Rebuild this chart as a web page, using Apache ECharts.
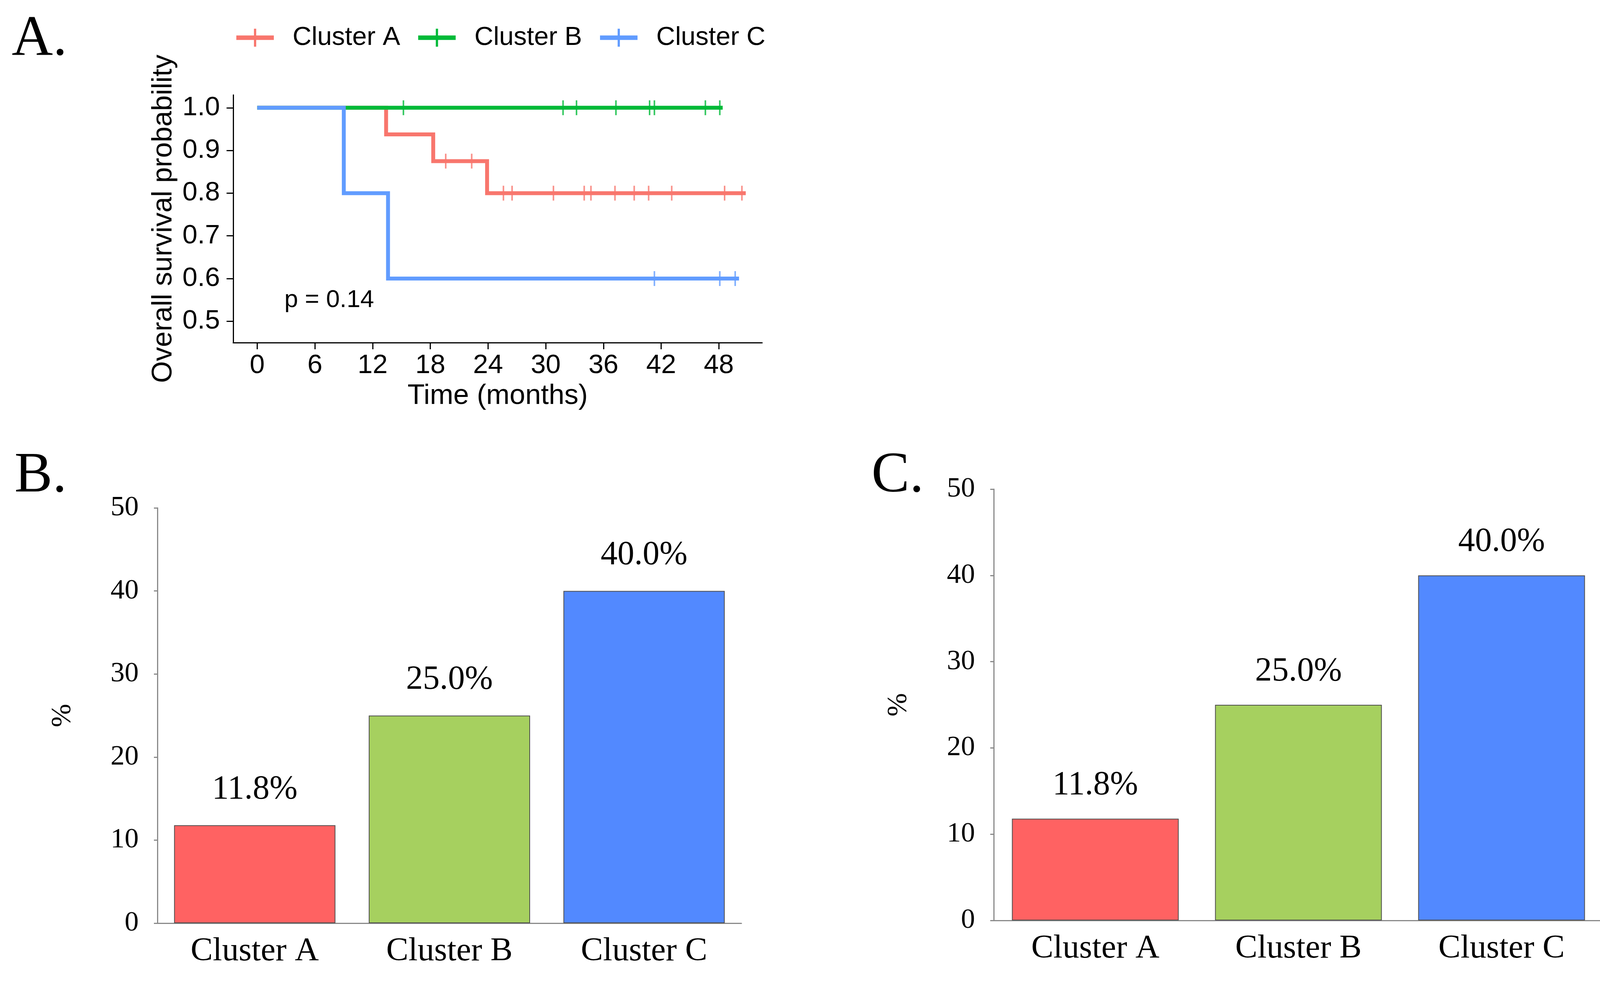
<!DOCTYPE html>
<html>
<head>
<meta charset="utf-8">
<script src="https://cdn.jsdelivr.net/npm/echarts@6/dist/echarts.min.js"></script>
<style>
html,body{margin:0;padding:0;background:#fff;}
#chart{width:4135px;height:2511px;}
</style>
</head>
<body>
<div id="chart"></div>
<script>
// ---------------- data ----------------
const clusterNames = ['Cluster A', 'Cluster B', 'Cluster C'];

// Kaplan-Meier step points (time in months, survival probability)
const kmTimeA = [0, 13.4, 18.3, 23.9, 50.8];
const kmSurvA = [1.0, 0.9375, 0.875, 0.8, 0.8];
const kmTimeB = [0, 48.4];
const kmSurvB = [1.0, 1.0];
const kmTimeC = [0, 9.0, 13.6, 50.1];
const kmSurvC = [1.0, 0.8, 0.6, 0.6];

// censoring times (months)
const censorA = [19.6, 22.3, 25.6, 26.5, 30.8, 34.0, 34.7, 37.2, 39.2, 40.7, 43.1, 48.6, 50.4];
const censorB = [15.2, 31.8, 33.2, 37.3, 40.8, 41.3, 46.6, 48.1];
const censorC = [41.3, 48.1, 49.7];

const timeTicks = [0, 6, 12, 18, 24, 30, 36, 42, 48];
const survTicks = [0.5, 0.6, 0.7, 0.8, 0.9, 1.0];
const pValueText = 'p = 0.14';

const barCategories = ['Cluster A', 'Cluster B', 'Cluster C'];
const barValuesB = [11.8, 25.0, 40.0];
const barValuesC = [11.8, 25.0, 40.0];

// ---------------- styles ----------------
const kmColors = ['#F8766D', '#00BA38', '#619CFF'];
const barColors = ['#FF6262', '#A6D05F', '#5289FF'];
const SANS = 'Liberation Sans';
const SERIF = 'Liberation Serif';
const plusIcon = 'path://M0,18L100,18L100,30L0,30Z M47,0L53,0L53,48L47,48Z';

function survAt(times, survs, t) {
  let s = survs[0];
  for (let i = 0; i < times.length; i++) { if (times[i] <= t) s = survs[i]; }
  return s;
}

function kmLine(name, times, survs, color) {
  return {
    type: 'line', name: name, xAxisIndex: 0, yAxisIndex: 0,
    step: 'end', showSymbol: false, symbol: 'none', silent: true,
    data: times.map((t, i) => [t, survs[i]]),
    lineStyle: { color: color, width: 10, join: 'miter', cap: 'butt' },
    itemStyle: { color: color }
  };
}
function censorMarks(name, censor, times, survs, color) {
  return {
    type: 'scatter', name: name, xAxisIndex: 0, yAxisIndex: 0,
    symbol: 'rect', symbolSize: [4, 38], silent: true,
    data: censor.map(t => [t, survAt(times, survs, t)]),
    itemStyle: { color: color }
  };
}
function barSeries(values, axisIdx, width, labelDist) {
  return {
    type: 'bar', xAxisIndex: axisIdx, yAxisIndex: axisIdx, barWidth: width, silent: true,
    data: values.map((v, i) => ({ value: v, itemStyle: { color: barColors[i] } })),
    itemStyle: { borderColor: '#4d4d4d', borderWidth: 2 },
    label: {
      show: true, position: 'top', distance: labelDist,
      formatter: p => p.value.toFixed(1) + '%',
      fontFamily: SERIF, fontSize: 86, color: '#000'
    }
  };
}
function barYAxis(gridIndex, nameGap) {
  return {
    gridIndex: gridIndex, type: 'value', min: 0, max: 50, interval: 10,
    axisLine: { show: true, lineStyle: { color: '#8a8a8a', width: 3 } },
    axisTick: { show: true, length: 9, lineStyle: { color: '#8a8a8a', width: 3 } },
    axisLabel: { fontFamily: SERIF, fontSize: 72, color: '#000', margin: 48 },
    splitLine: { show: false },
    name: '%', nameLocation: 'middle', nameRotate: 90, nameGap: nameGap,
    nameTextStyle: { fontFamily: SERIF, fontSize: 72, color: '#000' }
  };
}
function barXAxis(gridIndex) {
  return {
    gridIndex: gridIndex, type: 'category', data: barCategories,
    axisLine: { show: true, lineStyle: { color: '#8a8a8a', width: 3 } },
    axisTick: { show: false },
    axisLabel: { fontFamily: SERIF, fontSize: 85, color: '#000', margin: 30 }
  };
}

const option = {
  animation: false,
  backgroundColor: '#fff',
  grid: [
    { left: 597, top: 243, width: 1354, height: 634 },
    { left: 403, top: 1300, width: 1495, height: 1063 },
    { left: 2544, top: 1252, width: 1560, height: 1104 }
  ],
  legend: {
    left: 600, top: 58,
    itemWidth: 96, itemHeight: 48, itemGap: 46,
    data: clusterNames.map(n => ({ name: n, icon: plusIcon })),
    itemStyle: { borderWidth: 0 },
    textStyle: { fontFamily: SANS, fontSize: 67, color: '#000', padding: [0, 0, 0, 43] },
    selectedMode: false
  },
  xAxis: [
    {
      gridIndex: 0, type: 'value', min: -2.5, max: 52.5,
      axisLine: { show: true, onZero: false, lineStyle: { color: '#000', width: 3 } },
      axisTick: { show: true, length: 17, customValues: timeTicks, lineStyle: { color: '#000', width: 3 } },
      axisLabel: { customValues: timeTicks, fontFamily: SANS, fontSize: 69, color: '#000', margin: 24 },
      splitLine: { show: false },
      name: 'Time (months)', nameLocation: 'middle', nameGap: 101,
      nameTextStyle: { fontFamily: SANS, fontSize: 72, color: '#000' }
    },
    barXAxis(1),
    barXAxis(2)
  ],
  yAxis: [
    {
      gridIndex: 0, type: 'value', min: 0.45, max: 1.03,
      axisLine: { show: true, onZero: false, lineStyle: { color: '#000', width: 3 } },
      axisTick: { show: true, length: 17, customValues: survTicks, lineStyle: { color: '#000', width: 3 } },
      axisLabel: { customValues: survTicks, formatter: v => v.toFixed(1), fontFamily: SANS, fontSize: 69, color: '#000', margin: 34 },
      splitLine: { show: false },
      name: 'Overall survival probability', nameLocation: 'middle', nameGap: 142,
      nameTextStyle: { fontFamily: SANS, fontSize: 72, color: '#000' }
    },
    barYAxis(1, 206),
    barYAxis(2, 207)
  ],
  series: [
    kmLine(clusterNames[0], kmTimeA, kmSurvA, kmColors[0]),
    censorMarks(clusterNames[0], censorA, kmTimeA, kmSurvA, kmColors[0]),
    kmLine(clusterNames[1], kmTimeB, kmSurvB, kmColors[1]),
    censorMarks(clusterNames[1], censorB, kmTimeB, kmSurvB, kmColors[1]),
    kmLine(clusterNames[2], kmTimeC, kmSurvC, kmColors[2]),
    censorMarks(clusterNames[2], censorC, kmTimeC, kmSurvC, kmColors[2]),
    barSeries(barValuesB, 1, 413, 48),
    barSeries(barValuesC, 2, 427, 42)
  ],
  graphic: [
    { type: 'text', left: 30, top: 29, style: { text: 'A.', fontFamily: SERIF, fontSize: 146, fill: '#000' } },
    { type: 'text', left: 37, top: 1147, style: { text: 'B.', fontFamily: SERIF, fontSize: 146, fill: '#000' } },
    { type: 'text', left: 2231, top: 1147, style: { text: 'C.', fontFamily: SERIF, fontSize: 146, fill: '#000' } },
    { type: 'text', left: 728, top: 737, style: { text: pValueText, fontFamily: SANS, fontSize: 63, fill: '#000' } }
  ]
};

const chart = echarts.init(document.getElementById('chart'), null, { renderer: 'canvas' });
chart.setOption(option);
</script>
</body>
</html>
